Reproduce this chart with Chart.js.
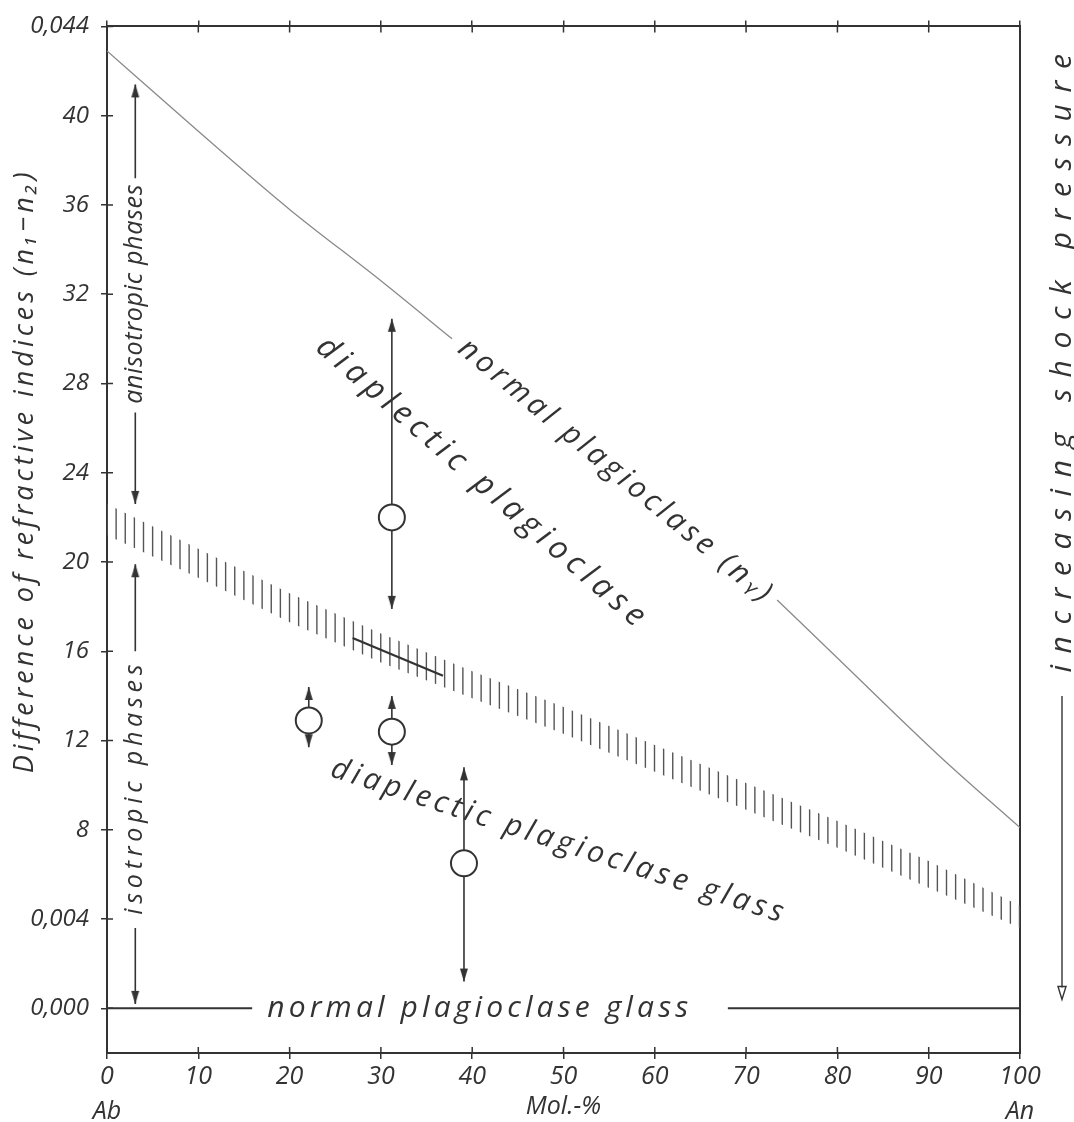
<!DOCTYPE html>
<html>
<head>
<meta charset="utf-8">
<script src="https://cdn.jsdelivr.net/npm/chart.js@4.4.0/dist/chart.umd.min.js"></script>
<style>
  html, body { margin: 0; padding: 0; background: #fff; }
  #wrap { width: 1074px; height: 1122px; }
</style>
</head>
<body>
<div id="wrap"><canvas id="chart"></canvas></div>
<script>
// axis ticks
const xTicks = [0, 10, 20, 30, 40, 50, 60, 70, 80, 90, 100];
const xTickLabels = [['0', 'Ab'], '10', '20', '30', '40', '50', '60', '70', '80', '90', ['100', 'An']];
const yTicks = [0, 4, 8, 12, 16, 20, 24, 28, 32, 36, 40, 44];
const yTickLabels = ['0,000', '0,004', '8', '12', '16', '20', '24', '28', '32', '36', '40', '0,044'];

// normal plagioclase (n_y), null = break where the label sits
const nyX = [0, 10, 20, 30, 37.8, 55, 73.4, 80, 91.2, 100];
const nyY = [42.9, 39.3, 35.8, 32.6, 30.0, null, 18.3, 15.7, 11.3, 8.1];

// hatched band between diaplectic plagioclase and glass
const bandX = [0, 10, 20, 30, 40, 50, 60, 70, 80, 90, 100];
const bandHigh = [22.6, 20.6, 18.6, 16.8, 15.1, 13.5, 11.8, 10.1, 8.4, 6.6, 4.6];
const bandLow = [21.2, 19.3, 17.3, 15.5, 13.9, 12.3, 10.6, 8.9, 7.2, 5.4, 3.6];

// heavy stroke across the band
const strokeX = [26.9, 36.8];
const strokeY = [16.6, 14.9];

// normal plagioclase glass (zero line), broken for its label
const glassX = [0, 15.9, 40, 68, 100];
const glassY = [0, 0, null, 0, 0];

// measured samples with their ranges
const sampleX = [31.2, 22.1, 31.2, 39.1];
const sampleY = [22.0, 12.9, 12.4, 6.5];
const sampleHigh = [30.9, 14.4, 14.0, 10.8];
const sampleLow = [17.9, 11.7, 10.9, 1.2];

// phase arrows on the left: [start, tip]
const phaseX = 3.1;
const anisoArrows = [[37.2, 41.4], [26.7, 22.6]];
const isoArrows = [[16.0, 19.9], [3.6, 0.2]];

const ink = '#333';
const textInk = '#333';
const fontFamily = "'Open Sans', 'DejaVu Sans', sans-serif";
Chart.defaults.font.family = fontFamily;
Chart.defaults.font.style = 'italic';
Chart.defaults.color = textInk;

const canvas = document.getElementById('chart');
const ctx = canvas.getContext('2d');

// vertical hatch lines, one per Mol-% (9.125 px)
function makeHatch() {
    const c = document.createElement('canvas');
    c.width = 73; c.height = 8;
    const g = c.getContext('2d');
    g.strokeStyle = '#555';
    g.lineWidth = 1.4;
    for (let k = 0; k < 8; k++) {
        const px = (34 + k * 9.125) % 73;
        g.beginPath(); g.moveTo(px, 0); g.lineTo(px, 8); g.stroke();
    }
    return ctx.createPattern(c, 'repeat');
}

// arrowhead image, tip at the image centre
function makeHead() {
    const c = document.createElement('canvas');
    c.width = 10; c.height = 28;
    const g = c.getContext('2d');
    g.beginPath(); g.moveTo(5, 14); g.lineTo(9, 27); g.lineTo(1, 27); g.closePath();
    g.fillStyle = ink; g.fill();
    return c;
}

const hatch = makeHatch();
const head = makeHead();
const pts = (xs, ys) => xs.map((x, i) => ({x: x, y: ys[i]}));

function arrowSet(x, from, tip) {
    return {
        data: [{x: x, y: from}, {x: x, y: tip}],
        borderColor: ink,
        borderWidth: 1.6,
        pointStyle: head,
        pointRadius: [0, 1],
        pointRotation: tip > from ? 0 : 180,
        order: 1
    };
}

const notes = [
    {text: 'normal plagioclase (nᵧ)', x: 55.6, y: 24.1, angle: 39.5, size: 30, len: 400},
    {text: 'diaplectic plagioclase', x: 40.9, y: 23.6, angle: 41, size: 32, len: 430},
    {text: 'diaplectic plagioclase glass', x: 49.3, y: 7.5, angle: 18, size: 30, len: 478},
    {text: 'normal plagioclase glass', x: 40.6, y: 0, angle: 0, size: 30, len: 425},
    {text: 'anisotropic phases', x: 3.1, y: 32.0, angle: -90, size: 25, len: 220},
    {text: 'isotropic phases', x: 3.1, y: 9.8, angle: -90, size: 25, len: 255},
    {text: 'Difference of refractive indices (n₁−n₂)', x: -8.98, y: 24.0, angle: -90, size: 27, len: 605},
    {text: 'increasing shock pressure', x: 104.6, y: 28.9, angle: -90, size: 30, len: 630}
];

const notesPlugin = {
    id: 'notes',
    afterDatasetsDraw(chart) {
        const {ctx, chartArea: a, scales: {x, y, xTop}} = chart;
        ctx.save();
        // inner halves of the crossing ticks
        ctx.strokeStyle = ink;
        ctx.lineWidth = 1.5;
        ctx.beginPath();
        y.ticks.forEach(t => { const py = y.getPixelForValue(t.value); ctx.moveTo(a.left, py); ctx.lineTo(a.left + 6, py); });
        x.ticks.forEach(t => { const px = x.getPixelForValue(t.value); ctx.moveTo(px, a.bottom); ctx.lineTo(px, a.bottom - 6); });
        xTop.ticks.forEach(t => { const px = xTop.getPixelForValue(t.value); ctx.moveTo(px, a.top); ctx.lineTo(px, a.top + 6); });
        ctx.stroke();

        // handwritten labels
        ctx.fillStyle = textInk;
        ctx.textAlign = 'center';
        ctx.textBaseline = 'middle';
        notes.forEach(n => {
            ctx.font = 'italic ' + n.size + 'px ' + fontFamily;
            ctx.letterSpacing = '0px';
            const w = ctx.measureText(n.text).width;
            const sp = Math.max(0, (n.len - w) / n.text.length);
            ctx.letterSpacing = sp + 'px';
            ctx.save();
            ctx.translate(x.getPixelForValue(n.x), y.getPixelForValue(n.y));
            ctx.rotate(n.angle * Math.PI / 180);
            ctx.fillText(n.text, sp / 2, 0);
            ctx.restore();
        });
        ctx.letterSpacing = '0px';

        // increasing shock pressure arrow (outside the frame)
        const rx = x.getPixelForValue(104.6);
        const y1 = y.getPixelForValue(14.0), y2 = y.getPixelForValue(0.4);
        ctx.lineWidth = 1.4;
        ctx.beginPath(); ctx.moveTo(rx, y1); ctx.lineTo(rx, y2 - 12); ctx.stroke();
        ctx.beginPath(); ctx.moveTo(rx, y2); ctx.lineTo(rx - 4, y2 - 13); ctx.lineTo(rx + 4, y2 - 13); ctx.closePath(); ctx.stroke();
        ctx.restore();
    }
};

const datasets = [
    {
        label: 'samples',
        data: pts(sampleX, sampleY),
        showLine: false,
        pointStyle: 'circle',
        pointRadius: 13,
        pointBorderWidth: 2,
        pointBackgroundColor: '#fff',
        pointBorderColor: ink,
        order: 0
    },
    ...sampleX.map((x, i) => arrowSet(x, sampleY[i], sampleHigh[i])),
    ...sampleX.map((x, i) => arrowSet(x, sampleY[i], sampleLow[i])),
    ...anisoArrows.map(a => arrowSet(phaseX, a[0], a[1])),
    ...isoArrows.map(a => arrowSet(phaseX, a[0], a[1])),
    {
        label: 'normal plagioclase (ny)',
        data: pts(nyX, nyY),
        borderColor: '#8a8a8a',
        borderWidth: 1.3,
        pointRadius: 0,
        cubicInterpolationMode: 'monotone',
        spanGaps: false,
        order: 3
    },
    {
        label: 'band upper',
        data: pts(bandX, bandHigh),
        borderColor: 'rgba(0,0,0,0)',
        borderWidth: 0,
        pointRadius: 0,
        fill: false,
        order: 4
    },
    {
        label: 'band lower',
        data: pts(bandX, bandLow),
        borderColor: 'rgba(0,0,0,0)',
        borderWidth: 0,
        pointRadius: 0,
        backgroundColor: hatch,
        fill: '-1',
        order: 4
    },
    {
        label: 'stroke',
        data: pts(strokeX, strokeY),
        borderColor: ink,
        borderWidth: 2.2,
        pointRadius: 0,
        order: 2
    },
    {
        label: 'normal plagioclase glass',
        data: pts(glassX, glassY),
        borderColor: ink,
        borderWidth: 2,
        pointRadius: 0,
        spanGaps: false,
        order: 3
    }
];

const axisGrid = {
    drawOnChartArea: false,
    drawTicks: true,
    tickLength: 6,
    color: ink,
    lineWidth: 1.5
};
const axisBorder = { display: true, color: ink, width: 2 };

const chart = new Chart(ctx, {
    type: 'line',
    data: { datasets: datasets },
    options: {
        responsive: true,
        maintainAspectRatio: false,
        animation: false,
        events: [],
        layout: { padding: { left: 0, right: 54, top: 23, bottom: 0 } },
        plugins: {
            legend: { display: false },
            tooltip: { enabled: false }
        },
        scales: {
            x: {
                type: 'linear',
                position: 'bottom',
                min: 0,
                max: 100,
                afterBuildTicks: s => { s.ticks = xTicks.map(v => ({value: v})); },
                afterFit: s => { s.height = 69; },
                grid: axisGrid,
                border: axisBorder,
                ticks: {
                    autoSkip: false,
                    maxRotation: 0,
                    padding: 0,
                    font: { size: 25, style: 'italic', lineHeight: 1.4 },
                    callback: v => xTickLabels[xTicks.indexOf(v)]
                },
                title: {
                    display: true,
                    text: 'Mol.-%',
                    padding: { top: 0, bottom: 0 },
                    font: { size: 25, style: 'italic' }
                }
            },
            xTop: {
                type: 'linear',
                position: 'top',
                min: 0,
                max: 100,
                afterBuildTicks: s => { s.ticks = xTicks.map(v => ({value: v})); },
                afterFit: s => { s.height = 0; },
                grid: axisGrid,
                border: axisBorder,
                ticks: { display: false }
            },
            y: {
                type: 'linear',
                position: 'left',
                min: -2,
                max: 44,
                afterBuildTicks: s => { s.ticks = yTicks.map(v => ({value: v})); },
                afterFit: s => { s.width = 107; },
                grid: axisGrid,
                border: axisBorder,
                ticks: {
                    padding: 12,
                    font: { size: 24, style: 'italic' },
                    callback: v => yTickLabels[yTicks.indexOf(v)]
                }
            },
            yRight: {
                type: 'linear',
                position: 'right',
                min: -2,
                max: 44,
                afterFit: s => { s.width = 0; },
                grid: { display: false },
                border: axisBorder,
                ticks: { display: false }
            }
        }
    },
    plugins: [notesPlugin]
});
</script>
</body>
</html>
